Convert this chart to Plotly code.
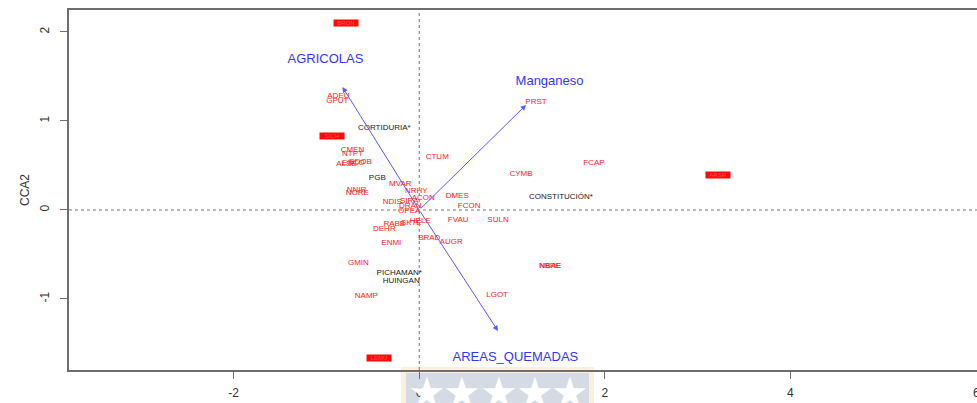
import plotly.graph_objects as go

# Species scores (CCA1, CCA2)
species_names = ["ADEU", "GPUT", "CMEN", "NTPT", "ALSE", "ESCO", "BDOB", "NNIR", "NORE",
                 "MVAR", "NRHY", "ACON", "NDIS", "SIRA", "DRAN", "OPEA", "RABB", "SKTE",
                 "HELE", "DEHR", "ENMI", "BRAD", "AUGR", "CTUM", "DMES", "FCON", "FVAU",
                 "SULN", "CYMB", "FCAP", "PRST", "GMIN", "NAMP", "LGOT", "NBRE", "NBAE"]
species_x = [-0.871, -0.882, -0.720, -0.720, -0.785, -0.710, -0.634, -0.677, -0.667,
             -0.204, -0.032, 0.043, -0.290, -0.108, -0.097, -0.108, -0.269, -0.086,
             0.011, -0.376, -0.301, 0.108, 0.344, 0.194, 0.409, 0.538, 0.419,
             0.849, 1.097, 1.882, 1.258, -0.656, -0.570, 0.839, 1.409, 1.414]
species_y = [1.281, 1.225, 0.674, 0.629, 0.517, 0.530, 0.539, 0.225, 0.191,
             0.292, 0.213, 0.135, 0.090, 0.101, 0.045, -0.011, -0.157, -0.146,
             -0.124, -0.213, -0.371, -0.315, -0.360, 0.596, 0.157, 0.045, -0.112,
             -0.112, 0.404, 0.528, 1.213, -0.596, -0.966, -0.955, -0.629, -0.632]

# Species stacked on identical scores
stacked_names = ["BRON", "SICH", "LEMU", "ARSR"]
stacked_x = [-0.785, -0.935, -0.430, 3.215]
stacked_y = [2.101, 0.831, -1.663, 0.393]

# Site scores
site_names = ["CORTIDURIA*", "PGB", "CONSTITUCIÓN*", "PICHAMAN*", "HUINGAN"]
site_x = [-0.376, -0.452, 1.527, -0.215, -0.194]
site_y = [0.921, 0.360, 0.146, -0.708, -0.798]

# Environmental biplot vectors
env_names = ["AGRICOLAS", "Manganeso", "AREAS_QUEMADAS"]
env_x = [-0.828, 1.151, 0.849]
env_y = [1.382, 1.180, -1.360]
label_mult = 1.22

# Axis ticks
x_ticks = [-2, 0, 2, 4]
x_edge_tick = 6
y_ticks = [-1, 0, 1, 2]

FONT = "Liberation Sans, Arial, sans-serif"
RED = "#ff1a1a"
BLUE = "#3535ff"
AXIS = "#6e6e6e"

fig = go.Figure()

fig.add_trace(go.Scatter(
    x=species_x, y=species_y, text=species_names, mode="text",
    textfont=dict(family=FONT, size=8, color=RED), hoverinfo="text", showlegend=False))

fig.add_trace(go.Scatter(
    x=site_x, y=site_y, text=site_names, mode="text",
    textfont=dict(family=FONT, size=8, color="#222222"), hoverinfo="text", showlegend=False))

fig.add_trace(go.Scatter(
    x=[v * label_mult for v in env_x], y=[v * label_mult for v in env_y],
    text=env_names, mode="text",
    textfont=dict(family=FONT, size=13, color=BLUE), hoverinfo="text", showlegend=False))

annotations = []

# stacked labels render as solid red blocks
for n, x, y in zip(stacked_names, stacked_x, stacked_y):
    annotations.append(dict(
        x=x, y=y, xref="x", yref="y", text=n, showarrow=False,
        font=dict(family=FONT, size=6, color="#ff5050"),
        bgcolor="#ff0a0a", width=24, height=6, borderpad=0))

# biplot arrows from the origin
for x, y in zip(env_x, env_y):
    annotations.append(dict(
        x=x, y=y, xref="x", yref="y", ax=0, ay=0, axref="x", ayref="y",
        text="", showarrow=True, arrowhead=2, arrowsize=1.1, arrowwidth=1,
        arrowcolor="#5a5aff", standoff=0))

# tick label at the right edge of the x axis
annotations.append(dict(
    x=x_edge_tick, y=(370 - 393) / 360, xref="x", yref="paper", text=str(x_edge_tick),
    xanchor="center", yanchor="middle",
    showarrow=False, font=dict(family=FONT, size=12, color="#333333")))

# y axis title
annotations.append(dict(
    x=(16 - 69) / 908, y=0.5, xref="paper", yref="paper", text="CCA2", textangle=-90,
    showarrow=False, font=dict(family=FONT, size=12, color="#333333")))

# watermark stars
for px in [427, 462, 499, 535, 570]:
    annotations.append(dict(
        x=(px - 69) / 908, y=(370 - 418) / 360, xref="paper", yref="paper",
        text="★", showarrow=False, font=dict(size=42, color="white")))

shapes = [
    # watermark plate
    dict(type="rect", xref="paper", yref="paper", x0=(401 - 69) / 908, x1=(594 - 69) / 908,
         y0=(370 - 410) / 360, y1=(370 - 367) / 360, fillcolor="#fcefdc",
         line=dict(width=0), layer="below"),
    dict(type="rect", xref="paper", yref="paper", x0=(406 - 69) / 908, x1=(589 - 69) / 908,
         y0=(370 - 410) / 360, y1=(370 - 373) / 360, fillcolor="#d5dbe4",
         line=dict(width=0), layer="below"),
    # zero reference lines
    dict(type="line", xref="x", yref="paper", x0=0, x1=0, y0=0, y1=1,
         line=dict(color="#777777", width=1, dash="dot"), layer="below"),
    dict(type="line", xref="paper", yref="y", x0=0, x1=1, y0=0, y1=0,
         line=dict(color="#777777", width=1, dash="dot"), layer="below"),
]

fig.update_layout(
    width=977, height=403,
    margin=dict(l=69, r=0, t=10, b=33),
    plot_bgcolor="white", paper_bgcolor="white",
    font=dict(family=FONT, size=12, color="#333333"),
    annotations=annotations, shapes=shapes,
    xaxis=dict(range=[-3.774, 6.01], tickvals=x_ticks, ticktext=[str(t) for t in x_ticks],
               showgrid=False, zeroline=False, showline=True, linecolor=AXIS, linewidth=1.5,
               mirror=True, ticks="outside", ticklen=7, tickcolor=AXIS,
               ticklabelstandoff=4,
               tickfont=dict(family=FONT, size=12, color="#333333")),
    yaxis=dict(range=[-1.798, 2.247], tickvals=y_ticks, ticktext=[str(t) for t in y_ticks],
               showgrid=False, zeroline=False, showline=True, linecolor=AXIS, linewidth=1.5,
               ticks="outside", ticklen=7, tickcolor=AXIS, tickangle=-90,
               ticklabelstandoff=6,
               tickfont=dict(family=FONT, size=12, color="#333333")),
)

fig.write_html("out.html")
